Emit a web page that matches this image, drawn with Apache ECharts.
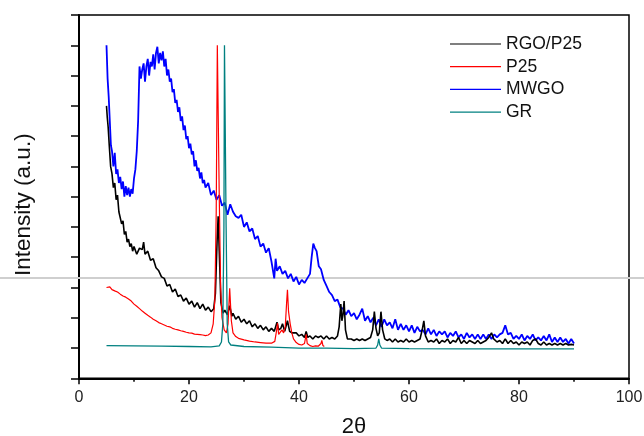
<!DOCTYPE html>
<html>
<head>
<meta charset="utf-8">
<script src="https://cdn.jsdelivr.net/npm/echarts@6/dist/echarts.min.js"></script>
<style>
html,body{margin:0;padding:0;background:#fff;}
#chart{width:644px;height:436px;}
</style>
</head>
<body>
<div id="chart"></div>
<script>
// ---- data (2theta in degrees, intensity in arbitrary units) ----
const seriesNames = ["RGO/P25", "P25", "MWGO", "GR"];
const xAxisName = "2\u03B8";
const yAxisName = "Intensity (a.u.)";

const rgoP25 = [
[5.0,9.0],[5.15,8.6],[5.3,8.3],[5.5,7.7],[5.75,7.0],[6.0,6.75],[6.25,6.3],[6.5,6.45],[6.75,5.9],[7.0,6.05],
[7.25,5.5],[7.5,5.45],[7.75,5.1],[8.0,5.2],[8.25,4.75],[8.5,4.85],[8.75,4.5],[9.0,4.6],[9.25,4.35],[9.5,4.45],
[9.75,4.2],[10.0,4.35],[10.5,4.1],[11.0,4.3],[11.5,4.25],[11.75,4.5],[12.0,4.1],[12.5,4.2],[13.0,3.9],[13.5,3.95],
[14.0,3.65],[14.5,3.55],[15.0,3.35],[15.5,3.3],[16.0,3.05],[16.5,3.1],[17.0,2.85],[17.5,2.95],[18.0,2.7],[18.5,2.75],
[19.0,2.55],[19.5,2.65],[20.0,2.45],[20.5,2.55],[21.0,2.35],[21.5,2.5],[22.0,2.3],[22.5,2.45],[23.0,2.25],[23.5,2.35],
[24.0,2.2],[24.5,2.3],[24.8,2.8],[25.1,4.5],[25.3,5.35],[25.5,4.2],[25.8,2.5],[26.2,2.15],[26.5,2.25],[27.0,2.1],
[27.4,2.4],[27.8,2.05],[28.0,2.15],[28.5,1.95],[29.0,2.05],[29.5,1.85],[30.0,1.95],[30.5,1.8],[31.0,1.9],[31.5,1.7],
[32.0,1.8],[32.5,1.65],[33.0,1.75],[33.5,1.6],[34.0,1.7],[34.5,1.55],[35.0,1.65],[35.5,1.55],[36.0,1.85],[36.3,1.6],
[36.7,1.65],[37.0,1.8],[37.4,1.55],[37.9,1.9],[38.3,1.55],[38.7,1.5],[39.0,1.45],[39.5,1.5],[40.0,1.4],[40.5,1.45],
[41.0,1.35],[41.3,1.55],[41.6,1.35],[42.0,1.4],[42.5,1.3],[43.0,1.4],[43.5,1.35],[44.0,1.4],[44.5,1.3],[45.0,1.4],
[45.5,1.3],[46.0,1.35],[46.5,1.3],[47.0,1.4],[47.3,1.7],[47.6,2.45],[47.8,1.9],[48.0,2.1],[48.2,2.55],[48.45,1.6],
[48.8,1.3],[49.5,1.3],[50.0,1.25],[50.5,1.3],[51.0,1.25],[51.5,1.3],[52.0,1.25],[52.5,1.3],[53.0,1.35],[53.4,1.6],
[53.7,2.2],[54.0,1.65],[54.3,1.4],[54.6,1.5],[54.9,2.2],[55.2,1.6],[55.6,1.3],[56.0,1.25],[56.5,1.3],[57.0,1.2],
[57.5,1.3],[58.0,1.2],[58.5,1.25],[59.0,1.2],[59.5,1.3],[60.0,1.2],[60.5,1.25],[61.0,1.2],[61.5,1.25],[62.0,1.3],
[62.4,1.6],[62.7,1.9],[63.0,1.4],[63.5,1.2],[64.0,1.25],[64.5,1.2],[65.0,1.3],[65.5,1.15],[66.0,1.25],[66.5,1.2],
[67.0,1.3],[67.5,1.15],[68.0,1.25],[68.5,1.2],[69.0,1.35],[69.5,1.15],[70.0,1.25],[70.5,1.15],[71.0,1.25],[71.5,1.2],
[72.0,1.15],[72.5,1.25],[73.0,1.15],[73.5,1.2],[74.0,1.25],[74.5,1.35],[75.0,1.5],[75.4,1.3],[76.0,1.2],[76.5,1.25],
[77.0,1.15],[77.5,1.3],[78.0,1.15],[78.5,1.25],[79.0,1.15],[79.5,1.2],[80.0,1.1],[80.5,1.2],[81.0,1.15],[81.5,1.2],
[82.0,1.1],[82.5,1.25],[83.0,1.3],[83.5,1.15],[84.0,1.1],[84.5,1.2],[85.0,1.1],[85.5,1.15],[86.0,1.1],[86.5,1.15],
[87.0,1.1],[87.5,1.15],[88.0,1.1],[88.5,1.15],[89.0,1.1],[89.5,1.12],[90.0,1.1]
];

const p25 = [
[5.0,3.0],[5.3,2.95],[5.6,3.02],[6.0,2.93],[6.3,2.97],[6.6,2.88],[7.0,2.85],[7.5,2.78],[8.0,2.72],[8.5,2.68],
[9.0,2.62],[9.5,2.55],[10.0,2.45],[10.5,2.38],[11.0,2.3],[11.5,2.22],[12.0,2.15],[12.5,2.08],[13.0,2.02],[13.5,1.95],
[14.0,1.9],[14.5,1.84],[15.0,1.8],[15.5,1.76],[16.0,1.72],[16.5,1.7],[17.0,1.65],[17.5,1.62],[18.0,1.6],[18.5,1.57],
[19.0,1.55],[19.5,1.52],[20.0,1.5],[20.5,1.49],[21.0,1.46],[21.5,1.45],[22.0,1.44],[22.5,1.43],[23.0,1.41],[23.5,1.43],
[24.0,1.5],[24.4,1.8],[24.7,2.6],[24.95,5.5],[25.15,11.0],[25.3,11.0],[25.5,6.0],[25.75,3.0],[26.0,2.0],[26.4,1.6],
[26.8,1.5],[27.1,1.8],[27.4,2.97],[27.7,1.9],[28.0,1.5],[28.5,1.38],[29.0,1.32],[30.0,1.27],[31.0,1.23],[32.0,1.2],
[33.0,1.18],[34.0,1.16],[35.0,1.16],[35.6,1.22],[35.9,1.55],[36.1,1.82],[36.3,1.45],[36.6,1.4],[36.9,1.6],[37.2,1.5],
[37.5,1.7],[37.75,2.5],[37.9,2.92],[38.1,2.2],[38.4,1.8],[38.7,1.5],[39.0,1.3],[39.5,1.18],[40.0,1.12],[40.5,1.1],
[41.0,1.15],[41.3,1.45],[41.5,1.15],[42.0,1.08],[42.5,1.05],[43.0,1.07],[43.5,1.06],[44.0,1.15],[44.15,1.25],[44.35,1.08],
[44.6,1.05]
];

const mwgo = [
[5.0,11.0],[5.2,9.9],[5.4,9.3],[5.6,8.5],[5.8,7.7],[6.0,7.5],[6.25,7.0],[6.5,7.45],[6.75,6.75],[7.0,6.9],
[7.25,6.45],[7.5,6.65],[7.75,6.25],[8.0,6.5],[8.25,6.0],[8.5,6.35],[8.75,6.05],[9.0,6.3],[9.25,6.0],[9.5,6.25],
[9.75,6.1],[10.0,6.6],[10.25,6.9],[10.5,7.5],[10.75,8.5],[11.0,10.3],[11.25,9.9],[11.5,10.2],[11.75,10.4],[12.0,9.8],
[12.25,10.3],[12.5,10.55],[12.75,10.0],[13.0,10.45],[13.25,10.3],[13.5,10.7],[13.75,10.2],[14.0,10.75],[14.25,10.95],[14.5,10.4],
[14.75,10.75],[15.0,10.5],[15.25,10.8],[15.5,10.3],[15.75,10.55],[16.0,10.0],[16.25,10.2],[16.5,9.8],[16.75,9.9],[17.0,9.45],
[17.25,9.55],[17.5,9.1],[17.75,9.2],[18.0,8.8],[18.25,8.95],[18.5,8.5],[18.75,8.65],[19.0,8.2],[19.25,8.35],[19.5,7.9],
[19.75,8.0],[20.0,7.6],[20.25,7.75],[20.5,7.4],[20.75,7.5],[21.0,7.0],[21.25,7.2],[21.5,6.85],[21.75,6.95],[22.0,6.6],
[22.25,6.8],[22.5,6.45],[22.75,6.55],[23.0,6.3],[23.5,6.45],[24.0,6.05],[24.5,6.2],[25.0,5.9],[25.5,6.05],[26.0,5.7],
[26.5,5.8],[27.0,5.4],[27.5,5.75],[28.0,5.5],[28.5,5.35],[29.0,5.3],[29.5,5.4],[30.0,5.0],[30.5,5.15],[31.0,4.85],
[31.5,4.95],[32.0,4.6],[32.5,4.7],[33.0,4.35],[33.5,4.45],[34.0,4.15],[34.5,4.3],[35.0,3.85],[35.5,3.3],[35.75,3.95],
[36.0,3.55],[36.5,3.7],[37.0,3.45],[37.5,3.55],[38.0,3.3],[38.5,3.45],[39.0,3.2],[39.5,3.35],[40.0,3.1],[40.5,3.25],
[41.0,3.15],[41.5,3.3],[42.0,3.45],[42.3,4.0],[42.6,4.45],[42.9,4.3],[43.2,4.2],[43.6,3.7],[44.0,3.6],[44.5,3.25],
[45.0,3.05],[45.5,2.85],[46.0,2.75],[46.5,2.55],[47.0,2.6],[47.5,2.35],[48.0,2.3],[48.5,2.1],[49.0,2.25],[49.5,2.05],
[50.0,2.15],[50.5,1.95],[51.0,2.1],[51.5,2.3],[52.0,1.9],[52.5,2.05],[53.0,1.85],[53.5,2.0],[54.0,1.75],[54.5,1.95],
[55.0,1.7],[55.5,1.95],[56.0,1.75],[56.5,1.85],[57.0,1.65],[57.5,1.95],[58.0,1.6],[58.5,1.8],[59.0,1.6],[59.5,1.75],
[60.0,1.55],[60.5,1.75],[61.0,1.5],[61.5,1.7],[62.0,1.55],[62.5,1.6],[63.0,1.45],[63.5,1.65],[64.0,1.45],[64.5,1.6],
[65.0,1.4],[65.5,1.55],[66.0,1.45],[66.5,1.55],[67.0,1.35],[67.5,1.5],[68.0,1.4],[68.5,1.55],[69.0,1.35],[69.5,1.45],
[70.0,1.3],[70.5,1.5],[71.0,1.35],[71.5,1.45],[72.0,1.3],[72.5,1.45],[73.0,1.3],[73.5,1.45],[74.0,1.3],[74.5,1.45],
[75.0,1.3],[75.5,1.45],[76.0,1.35],[76.5,1.45],[77.0,1.5],[77.5,1.75],[78.0,1.45],[78.5,1.5],[79.0,1.3],[79.5,1.4],
[80.0,1.3],[80.5,1.45],[81.0,1.25],[81.5,1.4],[82.0,1.3],[82.5,1.45],[83.0,1.25],[83.5,1.35],[84.0,1.25],[84.5,1.4],
[85.0,1.25],[85.5,1.45],[86.0,1.2],[86.5,1.35],[87.0,1.2],[87.5,1.35],[88.0,1.2],[88.5,1.3],[89.0,1.15],[89.5,1.3],
[90.0,1.15]
];

const gr = [
[5.0,1.08],[10.0,1.07],[15.0,1.06],[20.0,1.05],[24.0,1.04],[25.5,1.07],[25.9,1.2],[26.15,1.8],[26.35,5.0],[26.45,11.0],
[26.65,11.0],[26.75,5.0],[26.95,1.8],[27.2,1.2],[27.6,1.1],[30.0,1.05],[35.0,1.03],[40.0,1.0],[45.0,1.0],[50.0,0.98],
[54.0,1.0],[54.3,1.1],[54.5,1.3],[54.7,1.1],[55.0,1.0],[60.0,0.98],[70.0,0.97],[80.0,0.97],[90.0,0.97]
];

const chart = echarts.init(document.getElementById('chart'), null, {renderer: 'canvas'});
const font = 'Liberation Sans, Arial, sans-serif';

chart.setOption({
  animation: false,
  backgroundColor: '#fff',
  grid: {left: 79, top: 15, right: 15, bottom: 57.7, outerBoundsMode: 'none', containLabel: false,
         show: true, borderColor: '#000', borderWidth: 1.5, backgroundColor: 'transparent'},
  legend: {
    orient: 'vertical', left: 445, top: 30,
    icon: 'rect', itemWidth: 51, itemHeight: 1.2, itemGap: 4.7,
    data: seriesNames,
    textStyle: {fontFamily: font, fontSize: 17.5, color: '#111', lineHeight: 17}
  },
  xAxis: {
    type: 'value', min: 0, max: 100, interval: 20,
    name: xAxisName, nameLocation: 'middle', nameGap: 38,
    nameTextStyle: {fontFamily: font, fontSize: 22, color: '#111'},
    axisLine: {lineStyle: {color: '#000', width: 2}},
    axisTick: {length: 6, lineStyle: {color: '#000', width: 1.5}},
    minorTick: {show: true, splitNumber: 2, length: 3.5, lineStyle: {color: '#000', width: 1.5}},
    splitLine: {show: false},
    axisLabel: {fontFamily: font, fontSize: 16, color: '#222', margin: 11}
  },
  yAxis: {
    type: 'value', min: 0, max: 12, interval: 1,
    name: yAxisName, nameLocation: 'middle', nameGap: 44, nameRotate: 90,
    nameTextStyle: {fontFamily: font, fontSize: 22.5, color: '#111', padding: [0, 16, 0, 0]},
    axisLine: {lineStyle: {color: '#000', width: 2}},
    axisTick: {length: 8, lineStyle: {color: '#000', width: 1.5}},
    axisLabel: {show: false},
    splitLine: {show: false}
  },
  graphic: [{
    type: 'line', z: 1, silent: true,
    shape: {x1: 0, y1: 278, x2: 644, y2: 278},
    style: {stroke: '#cfcfcf', lineWidth: 2}
  }],
  series: [
    {name: seriesNames[2], type: 'line', data: mwgo, symbol: 'none', z: 2, lineStyle: {color: '#0000ff', width: 1.8}, itemStyle: {color: '#0000ff'}},
    {name: seriesNames[0], type: 'line', data: rgoP25, symbol: 'none', z: 3, lineStyle: {color: '#000000', width: 1.6}, itemStyle: {color: '#000000'}},
    {name: seriesNames[1], type: 'line', data: p25, symbol: 'none', z: 4, lineStyle: {color: '#ff0000', width: 1.2}, itemStyle: {color: '#ff0000'}},
    {name: seriesNames[3], type: 'line', data: gr, symbol: 'none', z: 5, lineStyle: {color: '#008080', width: 1.3}, itemStyle: {color: '#008080'}}
  ]
});
</script>
</body>
</html>
